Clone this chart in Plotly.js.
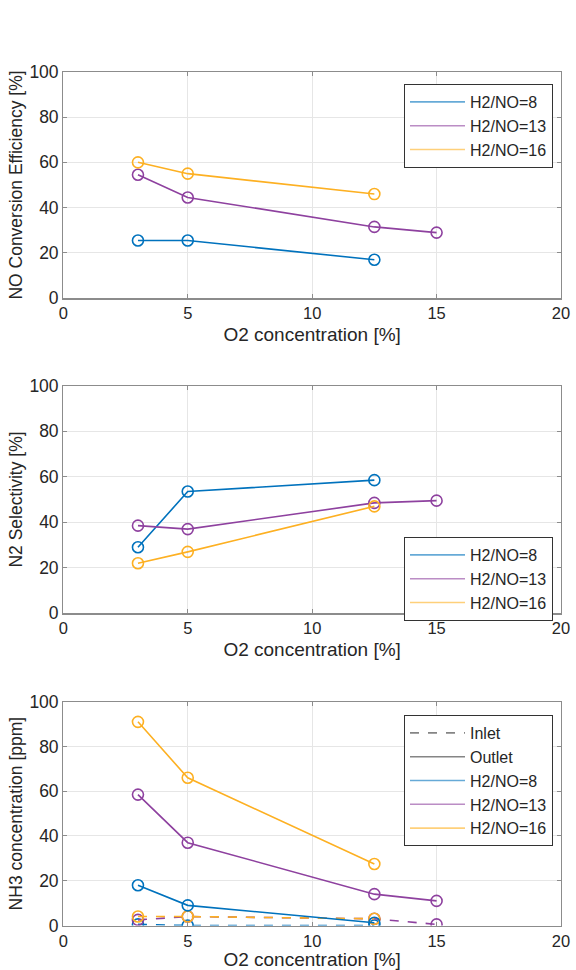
<!DOCTYPE html>
<html>
<head>
<meta charset="utf-8">
<script src="https://cdn.plot.ly/plotly-3.0.1.min.js"></script>
<style>html,body{margin:0;padding:0;background:#fff;}#chart{width:576px;height:970px;}</style>
</head>
<body>
<div id="chart"></div>
<script>
// ---- data ----
const o2_3 = [3, 5, 12.5];
const o2_4 = [3, 5, 12.5, 15];
const seriesNames = ['H2/NO=8', 'H2/NO=13', 'H2/NO=16'];

// NO conversion efficiency [%]
const noConv8 = [25.5, 25.5, 17];
const noConv13 = [54.5, 44.5, 31.5, 29];
const noConv16 = [60, 55, 46];

// N2 selectivity [%]
const n2Sel8 = [29, 53.5, 58.5];
const n2Sel13 = [38.5, 37, 48.5, 49.5];
const n2Sel16 = [22, 27, 47];

// NH3 concentration [ppm] - outlet
const nh3Out8 = [18, 9, 1.2];
const nh3Out13 = [58.5, 37, 14, 11];
const nh3Out16 = [91, 66, 27.5];
// NH3 concentration [ppm] - inlet
const nh3In8 = [0.5, 0, 0];
const nh3In13 = [2.5, 4, 3, 0.5];
const nh3In16 = [4, 4, 3];

const xTitle = 'O2 concentration [%]';
const yTitles = ['NO Conversion Efficiency [%]', 'N2 Selectivity [%]', 'NH3 concentration [ppm]'];

// ---- style ----
const colors = ['#0072BD', '#8E419F', '#FDB022'];
const font = 'Liberation Sans, Arial, sans-serif';
const txt = '#262626';

function tr(x, y, ci, axis, dash) {
  const n = axis === 1 ? '' : String(axis);
  return {
    x: x, y: y, xaxis: 'x' + n, yaxis: 'y' + n, type: 'scatter', mode: 'lines+markers',
    line: {color: colors[ci], width: 1.6, dash: dash || 'solid'},
    marker: {symbol: 'circle-open', size: 11, color: colors[ci], line: {width: 1.6, color: colors[ci]}},
    showlegend: false, hoverinfo: 'x+y'
  };
}
function leg(name, color, legendId, dash) {
  return {
    x: [null], y: [null], type: 'scatter', mode: 'lines', name: name,
    line: {color: color, width: 1.6, dash: dash || 'solid'}, opacity: 0.6,
    legend: legendId, showlegend: true, xaxis: 'x', yaxis: 'y'
  };
}

const data = [
  tr(o2_3, noConv8, 0, 1), tr(o2_4, noConv13, 1, 1), tr(o2_3, noConv16, 2, 1),
  tr(o2_3, n2Sel8, 0, 2), tr(o2_4, n2Sel13, 1, 2), tr(o2_3, n2Sel16, 2, 2),
  tr(o2_3, nh3In8, 0, 3, 'dash'), tr(o2_4, nh3In13, 1, 3, 'dash'), tr(o2_3, nh3In16, 2, 3, 'dash'),
  tr(o2_3, nh3Out8, 0, 3), tr(o2_4, nh3Out13, 1, 3), tr(o2_3, nh3Out16, 2, 3)
];
seriesNames.forEach((s, i) => data.push(leg(s, colors[i], 'legend')));
seriesNames.forEach((s, i) => data.push(leg(s, colors[i], 'legend2')));
data.push(leg('Inlet', '#333333', 'legend3', 'dash'));
data.push(leg('Outlet', '#333333', 'legend3'));
seriesNames.forEach((s, i) => data.push(leg(s, colors[i], 'legend3')));

const H = 970, W = 576;
const xdom = [63.3 / W, 561 / W];
const ydoms = [[1 - 298.3 / H, 1 - 71.7 / H], [1 - 613.3 / H, 1 - 385.7 / H], [1 - 925.5 / H, 1 - 701.7 / H]];

function xax(i) {
  return {
    domain: xdom, range: [0, 20], tickvals: [0, 5, 10, 15, 20], anchor: 'y' + (i === 1 ? '' : i),
    showgrid: true, gridcolor: '#e6e6e6', gridwidth: 1, zeroline: false,
    showline: true, linecolor: '#8c8c8c', linewidth: 1.2, mirror: 'ticks',
    ticks: 'inside', ticklen: 4, tickcolor: '#8c8c8c',
    tickfont: {family: font, size: 16.5, color: txt},
    title: {text: xTitle, font: {family: font, size: 19, color: txt}, standoff: 6},
    automargin: false, fixedrange: true
  };
}
function yax(i) {
  return {
    domain: ydoms[i - 1], range: [0, 100], tickvals: [0, 20, 40, 60, 80, 100], anchor: 'x' + (i === 1 ? '' : i),
    showgrid: true, gridcolor: '#e6e6e6', gridwidth: 1, zeroline: false,
    showline: true, linecolor: '#8c8c8c', linewidth: 1.2, mirror: 'ticks',
    ticks: 'inside', ticklen: 4, tickcolor: '#8c8c8c',
    tickfont: {family: font, size: 17.5, color: txt},
    title: {text: yTitles[i - 1], font: {family: font, size: 17.5, color: txt}, standoff: 2},
    automargin: false, fixedrange: true
  };
}
function lg(yTop) {
  return {
    x: 404 / W, y: 1 - yTop / H, xanchor: 'left', yanchor: 'top',
    bordercolor: '#333333', borderwidth: 1, bgcolor: '#ffffff',
    font: {family: font, size: 16, color: txt},
    tracegroupgap: 0, itemwidth: 55
  };
}

const layout = {
  width: W, height: H, margin: {l: 0, r: 0, t: 0, b: 0},
  paper_bgcolor: '#ffffff', plot_bgcolor: '#ffffff',
  font: {family: font, color: txt},
  xaxis: xax(1), yaxis: yax(1), xaxis2: xax(2), yaxis2: yax(2), xaxis3: xax(3), yaxis3: yax(3),
  legend: lg(84), legend2: lg(537), legend3: lg(715),
  showlegend: true
};

Plotly.newPlot('chart', data, layout, {displayModeBar: false, staticPlot: true});
</script>
</body>
</html>
